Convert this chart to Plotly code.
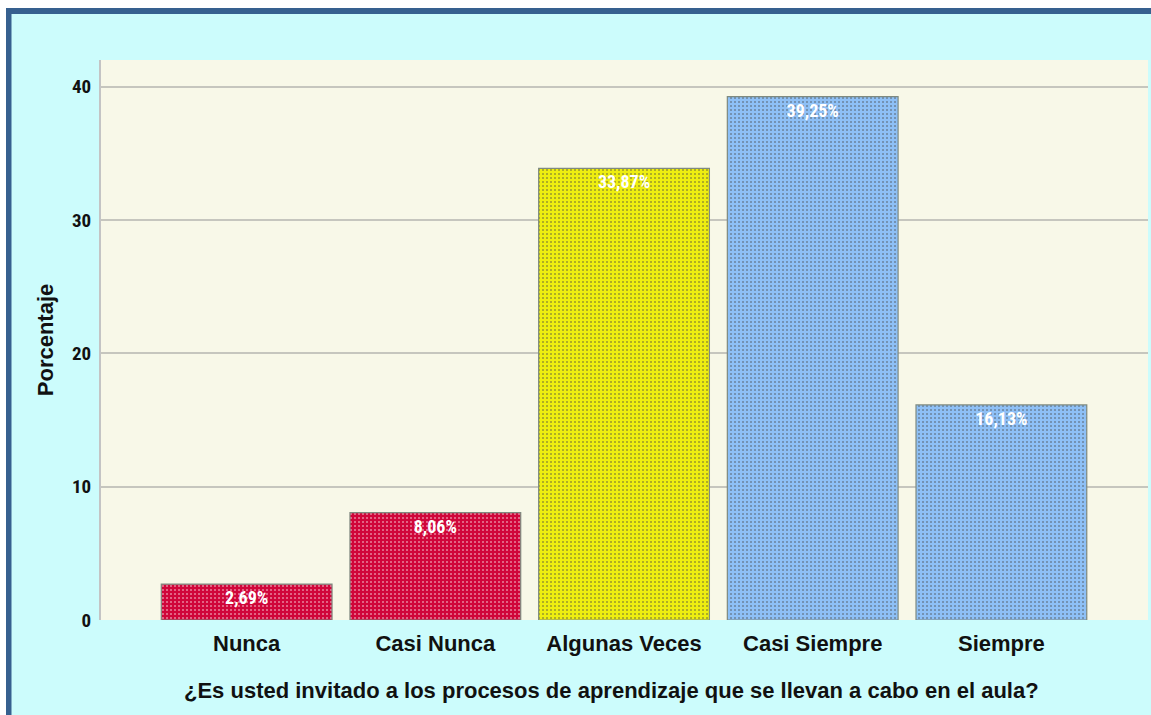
import plotly.graph_objects as go

categories = ["Nunca", "Casi Nunca", "Algunas Veces", "Casi Siempre", "Siempre"]
percentages = [2.69, 8.06, 33.87, 39.25, 16.13]
bar_colors = ["#d0063a", "#d0063a", "#eeee10", "#8ec0f6", "#8ec0f6"]
dot_colors = ["#b0002e", "#b0002e", "#c8c800", "#80acdf", "#80acdf"]
y_ticks = [0, 10, 20, 30, 40]
x_title = "¿Es usted invitado a los procesos de aprendizaje que se llevan a cabo en el aula?"

narrow = "Liberation Sans Narrow, Arial Narrow, Roboto Condensed, Liberation Sans, Arial, sans-serif"
sans = "Liberation Sans, Arial, sans-serif"

FIG_W, FIG_H = 1151, 715
PL, PR, PT, PB = 101, 1148, 60, 620

fig = go.Figure()
fig.add_trace(go.Bar(
    x=categories,
    y=percentages,
    width=0.905,
    marker=dict(
        color=bar_colors,
        line=dict(color="#7f8a80", width=1.2),
        pattern=dict(shape=".", fgcolor=dot_colors, size=4, solidity=0.2, fillmode="overlay"),
    ),
    texttemplate="%{y:.2f}%",
    textposition="inside",
    insidetextanchor="end",
    textangle=0,
    textfont=dict(family=narrow, size=18, color="white", weight="bold"),
    cliponaxis=False,
    hoverinfo="skip",
))


def px_x(p):
    return (p - PL) / float(PR - PL)


def px_y(q):
    return (PB - q) / float(PB - PT)


shapes = [
    dict(type="rect", xref="paper", yref="paper", x0=px_x(-5), x1=px_x(6), y0=px_y(730), y1=px_y(-5),
         fillcolor="white", line=dict(width=0), layer="above"),
    dict(type="rect", xref="paper", yref="paper", x0=px_x(-5), x1=px_x(1170), y0=px_y(8), y1=px_y(-5),
         fillcolor="white", line=dict(width=0), layer="above"),
    dict(type="rect", xref="paper", yref="paper", x0=px_x(6), x1=px_x(11.5), y0=px_y(730), y1=px_y(8),
         fillcolor="#36608f", line=dict(width=0), layer="above"),
    dict(type="rect", xref="paper", yref="paper", x0=px_x(6), x1=px_x(1170), y0=px_y(14), y1=px_y(8),
         fillcolor="#36608f", line=dict(width=0), layer="above"),
]

annotations = [
    dict(text=x_title, xref="paper", yref="paper", x=px_x(611), y=px_y(690),
         xanchor="center", yanchor="middle", showarrow=False,
         font=dict(family=sans, size=22, color="#111111", weight="bold")),
]

fig.update_layout(
    width=FIG_W,
    height=FIG_H,
    margin=dict(l=PL, r=FIG_W - PR, t=PT, b=FIG_H - PB, pad=0),
    paper_bgcolor="#ccfcfc",
    plot_bgcolor="#f8f8e8",
    separators=",.",
    showlegend=False,
    shapes=shapes,
    annotations=annotations,
    bargap=0.095,
    xaxis=dict(
        range=[-0.772, 4.777],
        showgrid=False,
        showline=False,
        ticks="",
        ticklabelstandoff=8,
        tickfont=dict(family=sans, size=22, color="#111111", weight="bold"),
        fixedrange=True,
    ),
    yaxis=dict(
        range=[0, 42],
        tickvals=y_ticks,
        showgrid=True,
        gridcolor="#c6c6be",
        gridwidth=2,
        zeroline=False,
        showline=True,
        linecolor="#c4c4c4",
        linewidth=2,
        ticks="",
        ticklabelstandoff=4,
        tickfont=dict(family=narrow, size=19, color="#111111", weight="bold"),
        title=dict(text="Porcentaje", font=dict(family=sans, size=22, color="#111111", weight="bold"), standoff=12),
        fixedrange=True,
    ),
)

fig.write_html(
    "out.html",
    config={"displayModeBar": False, "staticPlot": True},
    post_script="document.body.style.margin='0';document.documentElement.style.overflow='hidden';document.body.style.overflow='hidden';",
)
